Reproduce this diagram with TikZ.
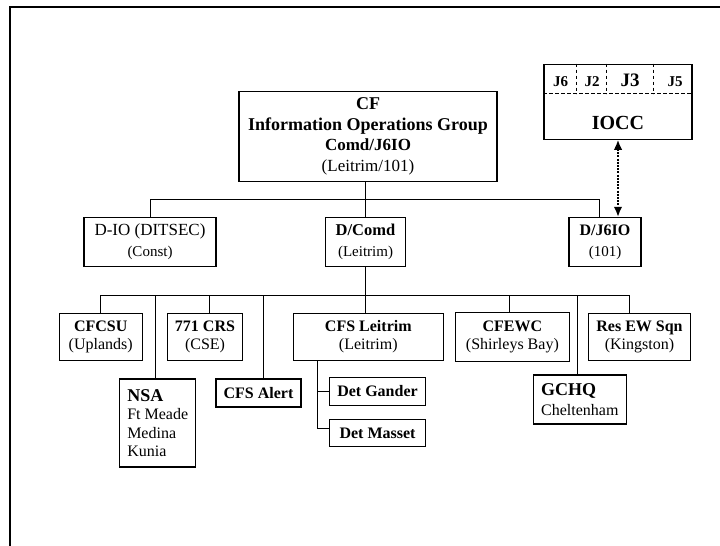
\documentclass[tikz,border=0pt]{standalone}
\usepackage{fontspec}
\setmainfont{Liberation Serif}
\usetikzlibrary{positioning, arrows.meta}

\begin{document}
\begin{tikzpicture}[
        x=1pt, y=-1pt,
        unit/.style={draw, line width=1.2pt, inner sep=0pt, align=center, font=\fontsize{16}{18.5}\selectfont},
        link/.style={line width=1pt},
        cell/.style={line width=0.9pt, dash pattern=on 3.5pt off 2.5pt},
        liaison/.style={{Latex[length=10pt,width=8.5pt]}-{Latex[length=10pt,width=8.5pt]}, line width=1.8pt, dash pattern=on 2pt off 1.2pt},
        jlabel/.style={anchor=base, font=\fontsize{15}{15}\selectfont\bfseries}
    ]
    \useasboundingbox (0,0) rectangle (720,546);
    \draw[line width=2pt] (720,7) -- (10,7) -- (10,546);

    % Group HQ
    \node[unit, minimum width=258, minimum height=90, font=\fontsize{18}{20.5}\selectfont\bfseries] (cf) at (368,136.5)
        {CF\\Information Operations Group\\{\fontsize{17}{20.5}\selectfont Comd/J6IO}\\{\fontsize{17}{20.5}\selectfont\mdseries (Leitrim/101)}};

    % IOCC
    \node[unit, minimum width=148, minimum height=75] (iocc) at (618,101.7) {};
    \draw[cell] ([yshift=-30pt]iocc.north west) -- ([yshift=-30pt]iocc.north east);
    \foreach \dx in {33.3, 62.7, 109.7}
        \draw[cell] ([xshift=\dx pt]iocc.north west) -- ++(0,30);
    \node[jlabel] (j6) at (560.5,86.5) {J6};
    \node[jlabel] (j2) at (592,86.5) {J2};
    \node[jlabel, font=\fontsize{19}{19}\selectfont\bfseries] (j3) at (630,86.5) {J3};
    \node[jlabel] (j5) at (675,86.5) {J5};
    \node[font=\fontsize{20}{20}\selectfont\bfseries] (ioccname) at (618,123.3) {IOCC};

    % Directorates
    \node[unit, minimum width=132, minimum height=49, font=\fontsize{17}{20.7}\selectfont] (dio) at (150,242)
        {D-IO (DITSEC)\\{\fontsize{15}{20.7}\selectfont (Const)}};
    \node[unit, minimum width=80, minimum height=49, font=\fontsize{16.5}{20.7}\selectfont] (dcomd) at (365.5,242)
        {\textbf{D/Comd}\\{\fontsize{15}{20.7}\selectfont (Leitrim)}};
    \node[unit, minimum width=72, minimum height=49, font=\fontsize{16}{20.7}\selectfont] (dj6io) at (605,242)
        {\textbf{D/J6IO}\\{\fontsize{15}{20.7}\selectfont (101)}};

    % Units
    \node[unit, minimum width=83, minimum height=47] (cfcsu) at (100.7,336.7) {\textbf{CFCSU}\\(Uplands)};
    \node[unit, minimum width=75.4, minimum height=47] (crs) at (205,336.7) {\textbf{771 CRS}\\(CSE)};
    \node[unit, minimum width=150, minimum height=47] (leitrim) at (368.3,336.7) {\textbf{CFS Leitrim}\\(Leitrim)};
    \node[unit, minimum width=114, minimum height=49] (cfewc) at (512.4,336.8) {\textbf{CFEWC}\\(Shirleys Bay)};
    \node[unit, minimum width=101.6, minimum height=47] (resew) at (639.5,336.7) {\textbf{Res EW Sqn}\\(Kingston)};
    \node[unit, minimum width=76, minimum height=88, align=left] (nsa) at (157.7,423)
        {{\fontsize{18}{18.7}\selectfont\bfseries NSA}\\Ft Meade\\Medina\\Kunia};
    \node[unit, minimum width=85, minimum height=28] (alert) at (258.5,393) {\textbf{CFS Alert}};
    \node[unit, minimum width=96.4, minimum height=27.6] (gander) at (377.5,391.5) {\textbf{Det Gander}};
    \node[unit, minimum width=96.4, minimum height=27, below=13pt of gander] (masset) {\textbf{Det Masset}};
    \node[unit, minimum width=93, minimum height=49, align=left, font=\fontsize{16}{20}\selectfont] (gchq) at (579.8,399.5)
        {{\fontsize{18}{20}\selectfont\bfseries GCHQ}\\Cheltenham};

    % Connections
    \coordinate (bus1) at (365.5,199.5);
    \coordinate (bus2) at (365.5,295.6);
    \draw[link] (cf.south -| dcomd.north) -- (dcomd.north);
    \draw[link] (dio.north) |- (bus1) -| ([xshift=-6pt]dj6io.north);
    \draw[liaison] (iocc.south) -- (iocc.south |- dj6io.north);

    \draw[link] (dcomd.south) -- (dcomd.south |- leitrim.north);
    \draw[link] (cfcsu.north) |- (bus2) -| ([xshift=-10pt]resew.north);
    \foreach \n/\s in {nsa/-2.4, crs/4, alert/5.2, cfewc/-3, gchq/-2.5}
        \draw[link] ([xshift=\s pt]\n.north) -- ([xshift=\s pt]\n.north |- bus2);

    \coordinate (lt) at ([xshift=24.4pt]leitrim.south west);
    \draw[link] (lt) |- (gander.west);
    \draw[link] (lt) |- ([yshift=5pt]masset.west);
\end{tikzpicture}
\end{document}
